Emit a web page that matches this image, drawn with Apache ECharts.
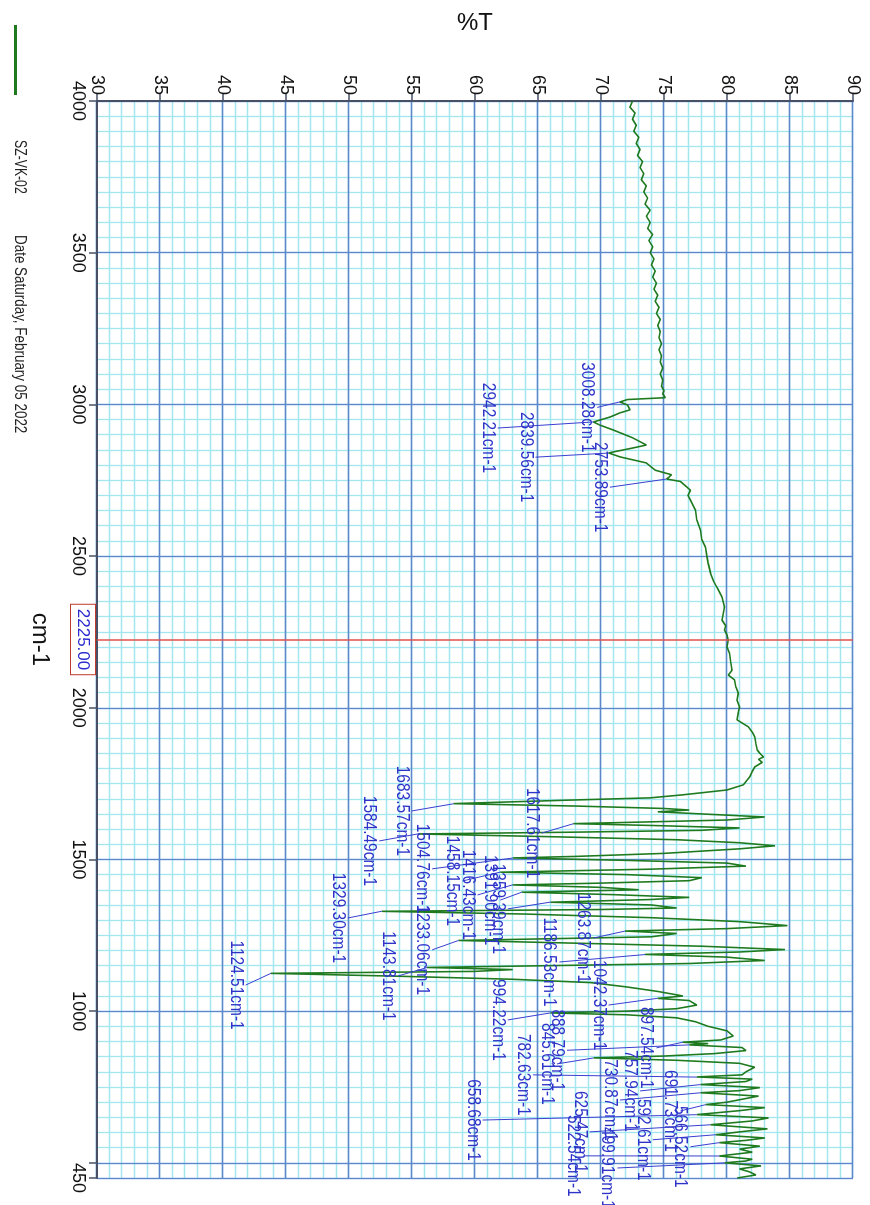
<!DOCTYPE html>
<html><head><meta charset="utf-8">
<script src="https://cdn.jsdelivr.net/npm/echarts@6/dist/echarts.min.js"></script>
<style>
html,body{margin:0;padding:0;background:#fff;width:870px;height:1205px;overflow:hidden}
#chart{position:absolute;left:870px;top:0;width:1205px;height:870px;transform-origin:0 0;transform:rotate(90deg);}
</style></head><body><div id="chart"></div>
<script>
// ---- data ----
const wavenumbers = [4000,3980,3960,3940,3920,3900,3880,3860,3840,3820,3800,3780,3760,3740,3720,3700,3680,3660,3640,3620,3600,3580,3560,3540,3520,3500,3480,3460,3440,3420,3400,3380,3360,3340,3320,3300,3280,3260,3240,3220,3200,3180,3160,3140,3120,3100,3080,3060,3045,3035,3022,3016,3008,2998,2982,2972,2958,2942,2932,2915,2890,2866,2856,2840,2827,2807,2783,2768,2760,2754,2746,2717,2700,2684,2651,2620,2585,2555,2529,2500,2477,2443,2420,2397,2365,2332,2310,2289,2270,2256,2240,2223,2200,2180,2150,2124,2108,2092,2070,2049,2025,2003,1985,1960,1937,1920,1904,1880,1861,1850,1838,1830,1820,1805,1790,1772,1746,1729,1713,1703,1695,1684,1676,1668,1663,1657,1648,1640,1630,1622,1618,1612,1604,1596,1590,1584,1575,1565,1555,1545,1535,1520,1510,1505,1497,1488,1478,1468,1458,1450,1440,1430,1422,1416,1408,1400,1392,1384,1375,1368,1359,1350,1340,1335,1329,1320,1308,1295,1282,1272,1264,1256,1245,1233,1224,1214,1203,1195,1187,1178,1167,1157,1150,1144,1137,1131,1124.5,1115,1105,1094,1080,1065,1050,1042,1035,1020,1008,1000,994,988,978,965,950,935,918,905,897.5,893,888.8,880,870,860,852,846,838,828,815,800,790,783,776,768,758,748,738,731,720,708,700,692,682,672,659,648,638,625.5,612,602,592.6,582,574,566.5,555,545,535,522.5,512,506,500,490,480,470,460,450];
const transmittance = [72.5,72.3,72.7,72.5,72.8,72.6,73.0,72.8,73.1,72.9,73.3,73.1,73.4,73.2,73.6,73.4,73.7,73.5,73.9,73.6,73.9,73.7,74.1,73.8,74.1,73.9,74.2,74.0,74.3,74.1,74.4,74.2,74.5,74.3,74.6,74.4,74.7,74.5,74.7,74.6,74.8,74.6,74.8,74.7,74.9,74.7,74.9,74.8,75.0,74.9,75.1,72.1,71.5,72.1,72.3,71.5,70.7,69.4,69.9,71.0,72.5,73.6,72.5,70.6,71.5,73.6,74.3,75.6,75.4,75.2,76.3,77.1,76.9,77.1,77.5,77.6,77.9,78.0,78.3,78.4,78.5,78.7,78.9,79.2,79.6,79.8,79.7,79.6,79.9,79.8,80.0,80.1,80.0,80.2,80.3,80.4,80.1,80.6,80.7,80.9,80.8,81.0,80.9,80.8,81.7,82.0,82.2,82.3,82.4,82.6,82.9,82.5,82.8,82.2,82.0,81.8,81.3,80.0,76.5,73.9,67,58.3,68,75,77.0,74.5,79,83.0,80,72,67.8,74,81,78,68,55.5,66,76,81,83.8,81,75,68,63.0,72,80,81.5,74,62.0,72,78,77,70,63,70,73,63.7,71,77,74,66,74,76,70,52.6,64,74,81,84.8,80,71.9,76,74,58.7,68,78,84.6,81,73.5,80,83,77,66,56.2,63,60,43.8,54,63,69.2,72,74.5,76.5,74.5,77,77.6,76,72,66,72,76,77.5,78.5,80,80.5,79.5,76.5,78.5,77,81.2,81.5,79,75,69.4,76,81,82.2,81.5,81.2,77.6,82,81.5,77.9,82.6,81,77.9,82.5,81,80,78.3,83,81,77.6,83.3,82,78.7,83.2,81,79.1,83,81.5,79.4,82.6,81,82,79.4,82,81.5,79.8,82.7,81,81.8,82.3,80.8];

const peakNames = ['3008.28cm-1','2942.21cm-1','2839.56cm-1','2753.89cm-1','1683.57cm-1','1617.61cm-1','1584.49cm-1','1504.76cm-1','1458.15cm-1','1416.43cm-1','1391.90cm-1','1359.39cm-1','1329.30cm-1','1263.87cm-1','1233.06cm-1','1186.53cm-1','1143.81cm-1','1124.51cm-1','1042.37cm-1','994.22cm-1','897.54cm-1','888.79cm-1','845.61cm-1','782.63cm-1','757.94cm-1','730.87cm-1','691.73cm-1','658.68cm-1','625.47cm-1','592.61cm-1','566.52cm-1','522.54cm-1','499.91cm-1'];
const peakWavenumbers = [3008.28,2942.21,2839.56,2753.89,1683.57,1617.61,1584.49,1504.76,1458.15,1416.43,1391.90,1359.39,1329.30,1263.87,1233.06,1186.53,1143.81,1124.51,1042.37,994.22,897.54,888.79,845.61,782.63,757.94,730.87,691.73,658.68,625.47,592.61,566.52,522.54,499.91];
const peakT = [71.5,69.4,70.6,75.2,58.3,67.8,55.5,63.0,62.0,63.0,63.7,66.0,52.6,71.9,58.7,73.5,56.2,43.8,74.5,66,76.5,77,69.4,77.6,77.9,77.9,78.3,77.6,78.7,79.1,79.4,79.4,79.8];
// layout: where each peak's label sits (data coordinates of the leader-line start)
const labelAtWavenumber = [2990,2922,2826,2727,1660,1587,1561,1469,1429,1383,1366,1337,1307,1241,1202,1162,1116,1086,1020,971,879,871,826,790,737,707,671,641,602,576,553,523,483];
const labelAtT = [69.7,61.8,64.8,70.7,55.0,65.3,52.4,56.6,59.0,60.2,62.0,62.6,49.9,69.4,56.6,66.7,53.9,41.8,70.6,62.6,74.4,67.3,66.5,64.6,73.1,71.5,76.3,60.6,69.1,74.1,77.1,68.6,71.3];

const wnMin = 450, wnMax = 4000;
const tMin = 30, tMax = 90;
const cursorWavenumber = 2225;
const sampleName = 'SZ-VK-02';
const dateText = 'Date Saturday, February 05 2022';

const chart = echarts.init(document.getElementById('chart'));
const FONT = '"Liberation Sans", Arial, sans-serif';
const spectrum = wavenumbers.map((w, i) => [-w, transmittance[i]]);
const annotations = peakWavenumbers.map((w, i) => [-labelAtWavenumber[i], labelAtT[i], -w, peakT[i]]);

const option = {
  animation: false,
  backgroundColor: '#fff',
  grid: { left: 101, right: 27, top: 17, bottom: 97 },
  legend: {
    data: [sampleName], left: 20, top: 848, icon: 'rect', itemWidth: 70, itemHeight: 3,
    formatter: () => '', textStyle: { fontSize: 1 }
  },
  graphic: [
    { type: 'text', x: 140, y: 842, scaleX: 0.72, style: { text: sampleName, fill: '#222', font: '17px ' + FONT } },
    { type: 'text', x: 235, y: 842, scaleX: 0.79, style: { text: dateText, fill: '#222', font: '17px ' + FONT } }
  ],
  xAxis: [{
    type: 'value', min: -wnMax, max: -wnMin, interval: 500, z: 2,
    name: 'cm-1', nameLocation: 'middle', nameGap: 45,
    nameTextStyle: { fontSize: 24, color: '#111', fontFamily: FONT },
    axisLine: { show: true, onZero: false, lineStyle: { color: '#475066', width: 2 } },
    axisTick: { show: true, length: 8, lineStyle: { color: '#475066', width: 1.5 } },
    axisLabel: { margin: 10, fontSize: 18, color: '#111', fontFamily: FONT,
      formatter: v => (v === -500 ? '' : String(Math.abs(v))) },
    splitLine: { show: true, lineStyle: { color: '#5f86cc', width: 1.3 } }
  }, {
    type: 'value', min: -wnMax, max: -wnMin, interval: 50, z: 0,
    axisLine: { show: false }, axisTick: { show: false }, axisLabel: { show: false },
    splitLine: { show: true, lineStyle: { color: '#a3e6ef', width: 1.3 } }
  }],
  yAxis: [{
    type: 'value', min: tMin, max: tMax, interval: 5, z: 2,
    name: '%T', nameLocation: 'middle', nameGap: 66,
    nameTextStyle: { fontSize: 24, color: '#111', fontFamily: FONT },
    axisLine: { show: true, lineStyle: { color: '#475066', width: 2 } },
    axisTick: { show: true, length: 8, lineStyle: { color: '#475066', width: 1.5 } },
    axisLabel: { margin: 6, fontSize: 18, color: '#111', fontFamily: FONT },
    splitLine: { show: true, lineStyle: { color: '#5f86cc', width: 1.3 } }
  }, {
    type: 'value', min: tMin, max: tMax, interval: 1, z: 0,
    axisLine: { show: false }, axisTick: { show: false }, axisLabel: { show: false },
    splitLine: { show: true, lineStyle: { color: '#a3e6ef', width: 1.3 } }
  }],
  series: [{
    name: sampleName, type: 'line', data: spectrum, showSymbol: false, symbol: 'none',
    lineStyle: { color: '#1f7a1f', width: 1.6 }, itemStyle: { color: '#1f7a1f' }, z: 3,
    markLine: {
      silent: true, symbol: 'none',
      lineStyle: { color: '#e0504a', width: 1.5, type: 'solid' },
      label: { show: true, position: 'start', distance: 2, formatter: cursorWavenumber.toFixed(2),
        color: '#2b2bd0', fontSize: 17, fontFamily: FONT, backgroundColor: '#fff',
        borderColor: '#c0392b', borderWidth: 1, padding: [4, 4, 3, 4] },
      data: [{ xAxis: -cursorWavenumber }]
    }
  }, {
    type: 'custom', data: annotations, encode: { x: [0, 2], y: [1, 3] }, z: 5, silent: true,
    renderItem: function (params, api) {
      const a = api.coord([api.value(0), api.value(1)]);
      const b = api.coord([api.value(2), api.value(3)]);
      return { type: 'group', children: [
        { type: 'line', shape: { x1: a[0], y1: a[1], x2: b[0], y2: b[1] }, style: { stroke: '#3940d0', lineWidth: 1 } },
        { type: 'text', x: a[0], y: a[1] + 1, scaleX: 0.86, style: { text: peakNames[params.dataIndex], fill: '#2f34c9',
          font: '18px ' + FONT, align: 'center', verticalAlign: 'top' } }
      ] };
    }
  }]
};
chart.setOption(option);
</script></body></html>
